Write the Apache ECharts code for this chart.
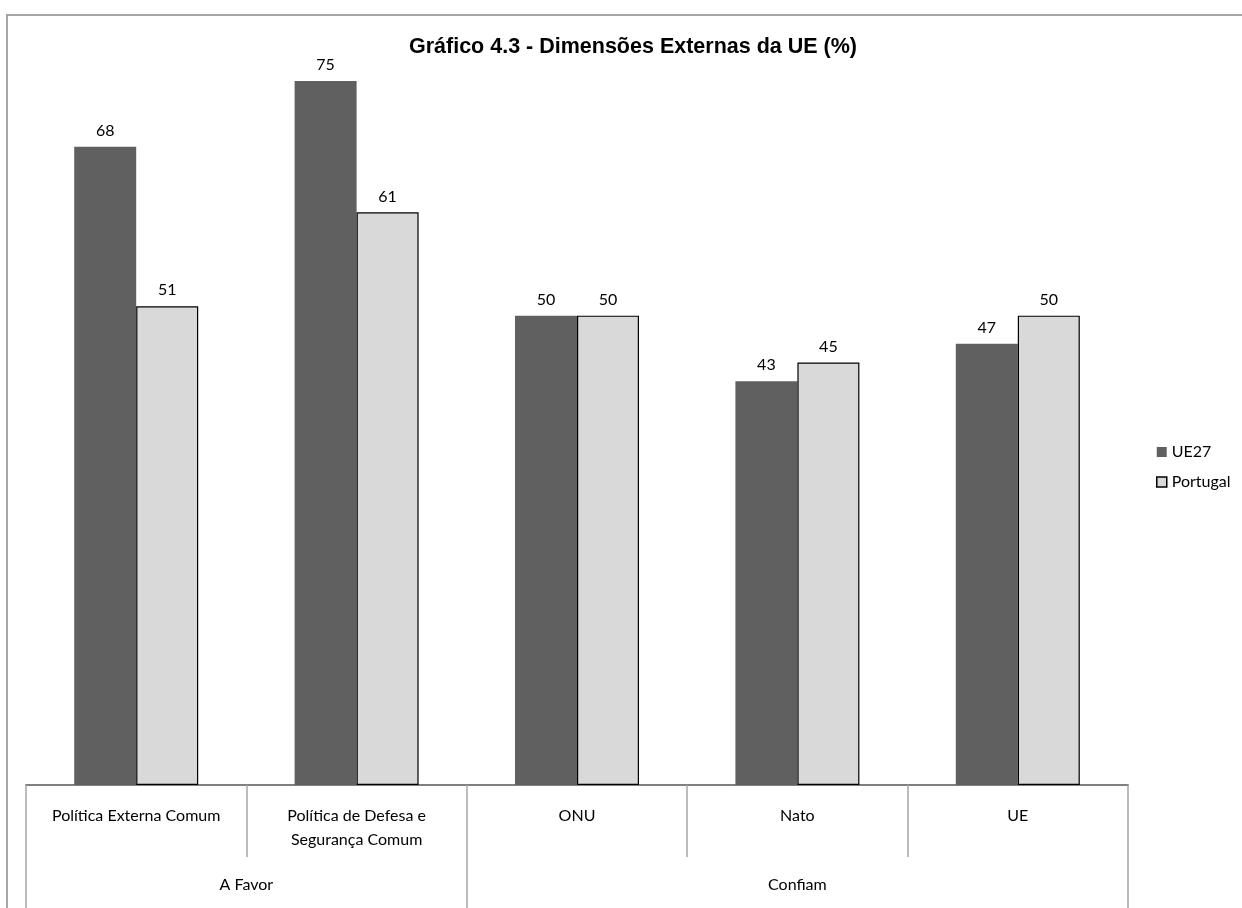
<!DOCTYPE html>
<html>
<head>
<meta charset="utf-8">
<script src="https://cdn.jsdelivr.net/npm/echarts@6/dist/echarts.min.js"></script>
<style>
html,body{margin:0;padding:0;background:#fff;}
#chart{width:1242px;height:908px;}
</style>
</head>
<body>
<div id="chart"></div>
<script>
const categories = ['Política Externa Comum', 'Política de Defesa e\nSegurança Comum', 'ONU', 'Nato', 'UE'];
const groups = ['A Favor', 'Confiam'];
const groupSpans = [2, 3];
const ue27 = [68, 75, 50, 43, 47];
const portugal = [51, 61, 50, 45, 50];
const seriesNames = ['UE27', 'Portugal'];

const chart = echarts.init(document.getElementById('chart'));
const labelFont = 'Lato, "Open Sans", sans-serif';
const fs = 16;

// group boundaries and centers on a 0..N value scale
const bounds = [0];
groupSpans.forEach(s => bounds.push(bounds[bounds.length - 1] + s));
const centers = groupSpans.map((s, i) => bounds[i] + s / 2);

const option = {
  animation: false,
  backgroundColor: '#fff',
  title: {
    text: 'Gráfico 4.3 - Dimensões Externas da UE (%)',
    left: 628, top: 31, textAlign: 'center',
    textStyle: {fontFamily: '"Liberation Sans", Arial, sans-serif', fontWeight: 'bold', fontSize: 21.5, color: '#000'}
  },
  legend: {
    orient: 'vertical', left: 1151, top: 439,
    icon: 'rect',
    itemWidth: 10, itemHeight: 10, itemGap: 14,
    textStyle: {fontFamily: labelFont, fontSize: fs, color: '#000', padding: [0, 0, 0, 0]},
    data: [
      {name: seriesNames[0], itemStyle: {color: '#606060', borderWidth: 0}},
      {name: seriesNames[1], itemStyle: {color: '#d9d9d9', borderColor: '#000', borderWidth: 1.5}}
    ]
  },
  grid: {left: 26, right: 114, top: 34, bottom: 123, containLabel: false},
  xAxis: [{
    type: 'category', data: categories, position: 'bottom',
    axisLine: {show: true, lineStyle: {color: '#808080', width: 2}},
    axisTick: {show: true, interval: 0, length: 72, lineStyle: {color: '#a6a6a6', width: 1.5}},
    axisLabel: {interval: 0, margin: 19, fontFamily: labelFont, fontSize: fs, color: '#000', lineHeight: 24}
  }, {
    type: 'value', min: 0, max: categories.length, position: 'bottom',
    axisLine: {show: false},
    splitLine: {show: false},
    axisTick: {show: true, customValues: bounds, length: 124, lineStyle: {color: '#a6a6a6', width: 1.5}},
    axisLabel: {show: true, customValues: centers, margin: 92, fontFamily: labelFont, fontSize: fs, color: '#000',
      formatter: v => { const i = centers.indexOf(v); return i >= 0 ? groups[i] : ''; }}
  }],
  yAxis: {type: 'value', min: 0, max: 80, show: false, splitLine: {show: false}},
  graphic: [{
    type: 'rect', silent: true, z: -1,
    shape: {x: 7, y: 15, width: 1400, height: 1000},
    style: {fill: 'none', stroke: '#a6a6a6', lineWidth: 2}
  }],
  series: [{
    name: seriesNames[0], type: 'bar', data: ue27, xAxisIndex: 0,
    barWidth: 62, barGap: '0%',
    itemStyle: {color: '#606060'},
    label: {show: true, position: 'top', distance: 8, fontFamily: labelFont, fontSize: fs, color: '#000'}
  }, {
    name: seriesNames[1], type: 'bar', data: portugal, xAxisIndex: 0,
    barWidth: 62, barGap: '0%',
    itemStyle: {color: '#d9d9d9', borderColor: '#000', borderWidth: 1.2},
    label: {show: true, position: 'top', distance: 8, fontFamily: labelFont, fontSize: fs, color: '#000'}
  }]
};
chart.setOption(option);
</script>
</body>
</html>
